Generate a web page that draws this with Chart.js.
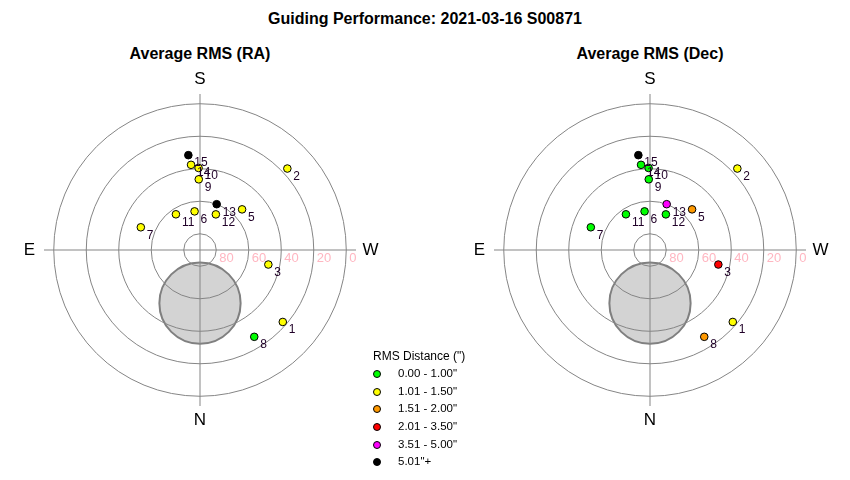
<!DOCTYPE html>
<html>
<head>
<meta charset="utf-8">
<script src="https://cdn.jsdelivr.net/npm/chart.js@4.4.1/dist/chart.umd.min.js"></script>
<style>
    body { margin: 0; width: 850px; height: 480px; background: #fff; position: relative; overflow: hidden;
           font-family: "Liberation Sans", Arial, sans-serif; color: #000; }
    canvas { position: absolute; top: 50px; }
    .titulo { position: absolute; font-weight: bold; font-size: 16px; line-height: 18px; text-align: center; }
    #legenda { position: absolute; left: 372px; top: 347px; font-size: 12px; }
    #legenda .cab { line-height: 18px; margin-left: 1px; }
    #legenda .item { position: relative; height: 17.7px; line-height: 17.7px; padding-left: 26px; font-size: 11.5px; }
    #legenda .bola { position: absolute; left: 1px; top: 5px; width: 6px; height: 6px; border: 1px solid #000; border-radius: 50%; }
</style>
</head>
<body>
<div class="titulo" style="left:0; top:10px; width:850px;">Guiding Performance: 2021-03-16 S00871</div>
<div class="titulo" style="left:0; top:45px; width:400px;">Average RMS (RA)</div>
<div class="titulo" style="left:450px; top:45px; width:400px;">Average RMS (Dec)</div>
<canvas id="graficoRA" width="400" height="400" style="left:0;"></canvas>
<canvas id="graficoDec" width="400" height="400" style="left:450px;"></canvas>
<div id="legenda"></div>

<script>
// dados dos apontamentos (azimute e altitude em graus)
const nomesPontos = ['1', '2', '3', '5', '6', '7', '8', '9', '10', '11', '12', '13', '14', '15'];
const azimutes = [311, 227, 282, 226, 172, 111, 328, 179, 179, 146, 204, 200, 174, 173];
const altitudes = [22.5, 16.5, 47, 54, 66, 51, 27, 46.5, 39.5, 63.5, 66, 60, 37.3, 31.2];

// RMS médio de cada apontamento (estimado pela cor da faixa)
const rmsRA = [1.2, 1.3, 1.2, 1.4, 1.1, 1.2, 0.9, 1.1, 1.2, 1.3, 1.1, 5.6, 1.2, 6.2];
const rmsDec = [1.2, 1.3, 2.8, 1.7, 0.8, 0.7, 1.8, 0.6, 0.7, 0.8, 0.9, 4.2, 0.8, 5.8];

// faixas da legenda
const faixasLimite = [1.00, 1.50, 2.00, 3.50, 5.00, Infinity];
const faixasCor = ['#00ff00', '#ffff00', '#ff9900', '#ff0000', '#ff00ff', '#000000'];
const faixasTexto = ['0.00 - 1.00"', '1.01 - 1.50"', '1.51 - 2.00"', '2.01 - 3.50"', '3.51 - 5.00"', '5.01"+'];

// anéis de altitude e pontos cardeais
const aneisAltitude = [80, 60, 40, 20, 0];
const nomesCardeais = ['S', 'N', 'E', 'W'];
const azimutesCardeais = [180, 0, 90, 270];

// zona cinza (azimute, altitude e raio em graus)
const zonaAz = 0;
const zonaAlt = 57.3;
const zonaRaio = 25;

const fonte = '"Liberation Sans", Arial, sans-serif';

// converte azimute/altitude para x/y (S em cima, E à esquerda)
const paraXY = (az, alt) => {
    const zd = 90 - alt;
    const rad = az * Math.PI / 180;
    return { x: -zd * Math.sin(rad), y: -zd * Math.cos(rad) };
};

const corDaFaixa = (valor) => faixasCor[faixasLimite.findIndex((lim) => valor <= lim)];

// plugin que desenha a grade polar por cima da zona cinza e os rótulos
const gradePolar = {
    id: 'gradePolar',
    afterDatasetDraw(chart, args) {
        if (args.index !== 0) return; // só depois da zona cinza
        const { ctx, scales: { x, y } } = chart;
        const cx = x.getPixelForValue(0);
        const cy = y.getPixelForValue(0);
        const pxGrau = x.getPixelForValue(1) - cx;
        ctx.save();
        ctx.strokeStyle = '#858585';
        ctx.lineWidth = 1;
        aneisAltitude.forEach((alt) => {
            ctx.beginPath();
            ctx.arc(cx, cy, (90 - alt) * pxGrau, 0, 2 * Math.PI);
            ctx.stroke();
        });
        ctx.beginPath();
        ctx.moveTo(x.getPixelForValue(-96), cy);
        ctx.lineTo(x.getPixelForValue(96), cy);
        ctx.moveTo(cx, y.getPixelForValue(96));
        ctx.lineTo(cx, y.getPixelForValue(-96));
        ctx.stroke();
        // rótulos dos anéis
        ctx.fillStyle = '#ffb6c1';
        ctx.font = '13px ' + fonte;
        ctx.textAlign = 'left';
        ctx.textBaseline = 'middle';
        aneisAltitude.forEach((alt) => {
            ctx.fillText(String(alt), x.getPixelForValue(90 - alt) + 3, cy + 8);
        });
        ctx.restore();
    },
    afterDatasetsDraw(chart) {
        const { ctx, scales: { x, y } } = chart;
        ctx.save();
        // números dos apontamentos
        ctx.fillStyle = '#200028';
        ctx.font = '12px ' + fonte;
        ctx.textAlign = 'left';
        ctx.textBaseline = 'middle';
        chart.getDatasetMeta(1).data.forEach((el, i) => {
            ctx.fillText(nomesPontos[i], el.x + 6, el.y + 8);
        });
        // pontos cardeais
        ctx.fillStyle = '#000';
        ctx.font = '17px ' + fonte;
        ctx.textAlign = 'center';
        nomesCardeais.forEach((nome, i) => {
            const p = paraXY(azimutesCardeais[i], 90 - 105);
            ctx.fillText(nome, x.getPixelForValue(p.x), y.getPixelForValue(p.y));
        });
        ctx.restore();
    },
};

const criarGrafico = (id, valoresRms) => {
    const ctx = document.getElementById(id).getContext('2d');
    const pontos = azimutes.map((az, i) => paraXY(az, altitudes[i]));
    new Chart(ctx, {
        type: 'scatter',
        data: {
            datasets: [
                {
                    data: [paraXY(zonaAz, zonaAlt)],
                    order: 1,
                    backgroundColor: '#d3d3d3',
                    borderColor: '#808080',
                    borderWidth: 2,
                    pointRadius: (c) => {
                        const s = c.chart.scales.x;
                        return s.getPixelForValue(zonaRaio) - s.getPixelForValue(0);
                    },
                },
                {
                    data: pontos,
                    order: 0,
                    backgroundColor: valoresRms.map(corDaFaixa),
                    borderColor: '#000',
                    borderWidth: 1,
                    pointRadius: 3.8,
                },
            ],
        },
        options: {
            responsive: false,
            animation: false,
            events: [],
            layout: { padding: 0 },
            plugins: { legend: { display: false }, tooltip: { enabled: false } },
            scales: {
                x: { type: 'linear', min: -120, max: 120, display: false },
                y: { type: 'linear', min: -120, max: 120, display: false },
            },
        },
        plugins: [gradePolar],
    });
};

// legenda em html
const legenda = document.getElementById('legenda');
legenda.innerHTML = '<div class="cab">RMS Distance (")</div>' +
    faixasTexto.map((t, i) => `<div class="item"><span class="bola" style="background:${faixasCor[i]}"></span>${t}</div>`).join('');

criarGrafico('graficoRA', rmsRA);
criarGrafico('graficoDec', rmsDec);
</script>
</body>
</html>
